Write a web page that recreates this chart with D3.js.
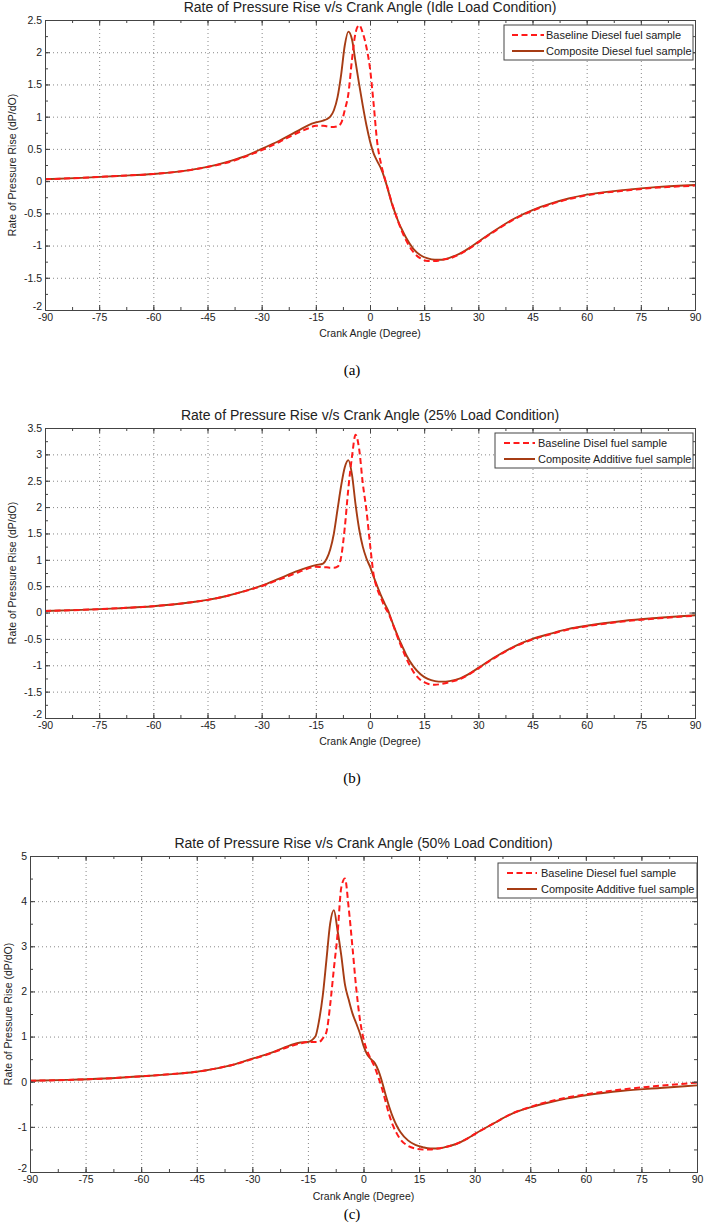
<!DOCTYPE html>
<html>
<head>
<meta charset="utf-8">
<script src="https://cdn.jsdelivr.net/npm/d3@7/dist/d3.min.js"></script>
<style>
  body { margin: 0; background: #fff; }
  svg { display: block; }
</style>
</head>
<body>
<svg width="704" height="1229"></svg>
<script>
// crank angle samples shared by all curves
var angles = [-90,-80,-70,-60,-50,-45,-40,-35,-30,-25,-20,-17,-15,-13,
  -12,-11,-10,-9,-8,-7,-6,-5,-4,-3,-2,-1,0,1,2,3,4,5,6,7,8,9,10,
  12,14,16,18,20,22,25,28,30,35,40,45,50,55,60,70,80,90];

// (a) idle load
var baseIdle = [0.03,0.05,0.08,0.11,0.17,0.22,0.28,0.37,0.48,0.61,0.75,0.82,0.86,0.86,
  0.85,0.84,0.84,0.85,0.9,1.1,1.35,1.88,2.3,2.42,2.3,2.08,1.75,1.2,0.6,0.28,0.06,-0.13,-0.33,-0.5,-0.66,-0.8,-0.92,
  -1.1,-1.2,-1.24,-1.24,-1.22,-1.2,-1.13,-1.03,-0.95,-0.76,-0.59,-0.46,-0.36,-0.28,-0.22,-0.15,-0.1,-0.07];
var compIdle = [0.03,0.05,0.08,0.11,0.17,0.22,0.29,0.38,0.5,0.63,0.78,0.87,0.91,0.94,
  0.96,1.0,1.1,1.3,1.65,2.1,2.32,2.2,1.85,1.5,1.17,0.87,0.62,0.43,0.31,0.2,0.05,-0.14,-0.34,-0.5,-0.65,-0.77,-0.88,
  -1.05,-1.15,-1.2,-1.22,-1.22,-1.19,-1.12,-1.02,-0.94,-0.75,-0.58,-0.45,-0.35,-0.27,-0.21,-0.14,-0.09,-0.06];

// (b) 25% load
var base25 = [0.03,0.05,0.08,0.12,0.19,0.24,0.31,0.4,0.5,0.63,0.76,0.84,0.87,0.86,
  0.86,0.85,0.85,0.87,1.05,1.6,2.35,2.95,3.37,3.1,2.45,1.95,1.3,0.72,0.45,0.28,0.12,0.0,-0.16,-0.35,-0.53,-0.7,-0.86,
  -1.12,-1.28,-1.35,-1.37,-1.35,-1.32,-1.26,-1.15,-1.06,-0.84,-0.65,-0.51,-0.41,-0.32,-0.26,-0.17,-0.11,-0.06];
var comp25 = [0.03,0.05,0.08,0.12,0.19,0.24,0.31,0.4,0.51,0.65,0.79,0.86,0.9,0.93,
  1.02,1.2,1.5,1.95,2.4,2.75,2.89,2.62,2.05,1.58,1.25,1.03,0.87,0.68,0.5,0.33,0.18,0.04,-0.15,-0.33,-0.5,-0.65,-0.8,
  -1.02,-1.17,-1.26,-1.3,-1.31,-1.3,-1.25,-1.14,-1.05,-0.83,-0.64,-0.5,-0.4,-0.31,-0.25,-0.16,-0.1,-0.05];

// (c) 50% load
var base50 = [0.02,0.04,0.07,0.12,0.18,0.22,0.29,0.38,0.5,0.63,0.78,0.85,0.88,0.88,
  0.88,0.96,1.1,1.7,2.5,3.27,4.3,4.5,3.85,3.0,2.1,1.4,0.95,0.68,0.5,0.33,0.1,-0.15,-0.45,-0.75,-0.98,-1.15,-1.28,
  -1.42,-1.48,-1.5,-1.5,-1.48,-1.45,-1.38,-1.26,-1.16,-0.93,-0.71,-0.56,-0.44,-0.35,-0.28,-0.17,-0.09,-0.02];
var comp50 = [0.02,0.04,0.07,0.12,0.18,0.22,0.29,0.38,0.51,0.64,0.8,0.87,0.88,1.0,
  1.35,1.9,2.7,3.5,3.8,3.35,2.8,2.15,1.82,1.52,1.3,1.08,0.8,0.6,0.5,0.42,0.25,0.0,-0.3,-0.57,-0.8,-0.98,-1.12,
  -1.3,-1.4,-1.45,-1.48,-1.48,-1.45,-1.38,-1.26,-1.16,-0.93,-0.71,-0.57,-0.46,-0.37,-0.3,-0.2,-0.14,-0.08];

var xTicks = [-90,-75,-60,-45,-30,-15,0,15,30,45,60,75,90];
var yTicksIdle = [-2,-1.5,-1,-0.5,0,0.5,1,1.5,2,2.5];
var yTicks25 = [-2,-1.5,-1,-0.5,0,0.5,1,1.5,2,2.5,3,3.5];
var yTicks50 = [-2,-1,0,1,2,3,4,5];

var titles = [
  "Rate of Pressure Rise v/s Crank Angle (Idle Load Condition)",
  "Rate of Pressure Rise v/s Crank Angle (25% Load Condition)",
  "Rate of Pressure Rise v/s Crank Angle (50% Load Condition)"
];
var legendIdle = ["Baseline Diesel fuel sample", "Composite Diesel fuel sample"];
var legend25 = ["Baseline Disel fuel sample", "Composite Additive fuel sample"];
var legend50 = ["Baseline Diesel fuel sample", "Composite Additive fuel sample"];
var captions = ["(a)", "(b)", "(c)"];

var svg = d3.select("svg");
var font = "'Liberation Sans', Arial, sans-serif";
var red = "#ff1a1a", brown = "#a63c14";

// layout of each sub-figure
var panels = [
  { left: 45, right: 695, top: 20, bottom: 310, yTicks: yTicksIdle, minorY: 0.25,
    base: baseIdle, comp: compIdle, legend: legendIdle, title: titles[0], caption: captions[0],
    titleY: 7, xlabY: 333, capY: 370, ylabX: 12,
    lg: { x: 504, y: 25, w: 189, h: 35, l1: 512, l2: 544, tx: 546 } },
  { left: 45, right: 695, top: 428, bottom: 718, yTicks: yTicks25, minorY: 0.25,
    base: base25, comp: comp25, legend: legend25, title: titles[1], caption: captions[1],
    titleY: 415, xlabY: 741, capY: 778, ylabX: 12,
    lg: { x: 495, y: 433, w: 198, h: 35, l1: 504, l2: 535, tx: 538 } },
  { left: 30, right: 697, top: 856, bottom: 1172, yTicks: yTicks50, minorY: 0.5,
    base: base50, comp: comp50, legend: legend50, title: titles[2], caption: captions[2],
    titleY: 843, xlabY: 1196, capY: 1214, ylabX: 8,
    lg: { x: 498, y: 863, w: 199, h: 35, l1: 507, l2: 537, tx: 541 } }
];

panels.forEach(function (p) {
  var x = d3.scaleLinear().domain([-90, 90]).range([p.left, p.right]);
  var yDom = d3.extent(p.yTicks);
  var y = d3.scaleLinear().domain(yDom).range([p.bottom, p.top]);
  var w = p.right - p.left, h = p.bottom - p.top;
  var g = svg.append("g");
  var fmt = function (d) { return String(d); };

  // dotted grid
  g.append("g")
    .attr("transform", "translate(0," + p.bottom + ")")
    .call(d3.axisBottom(x).tickValues(xTicks.slice(1, -1)).tickSize(-h).tickFormat(""))
    .call(function (s) { s.select(".domain").remove(); });
  g.append("g")
    .attr("transform", "translate(" + p.left + ",0)")
    .call(d3.axisLeft(y).tickValues(p.yTicks.slice(1, -1)).tickSize(-w).tickFormat(""))
    .call(function (s) { s.select(".domain").remove(); });
  g.selectAll(".tick line")
    .attr("stroke", "#6a6a6a").attr("stroke-width", 0.8).attr("stroke-dasharray", "1,3");

  // curves
  var pts = function (vals) { return angles.map(function (a, i) { return [a, vals[i]]; }); };
  var line = d3.line()
    .x(function (d) { return x(d[0]); })
    .y(function (d) { return y(d[1]); })
    .curve(d3.curveMonotoneX);
  g.append("path").datum(pts(p.comp))
    .attr("fill", "none").attr("stroke", brown).attr("stroke-width", 1.9)
    .attr("d", line);
  g.append("path").datum(pts(p.base))
    .attr("fill", "none").attr("stroke", red).attr("stroke-width", 2)
    .attr("stroke-dasharray", "6,3.5")
    .attr("d", line);

  // axes: inward ticks on all four sides
  var minorX = d3.range(-90, 90.1, 7.5);
  var minorYs = d3.range(yDom[0], yDom[1] + 0.001, p.minorY);
  var ax = g.append("g").attr("class", "axes");
  ax.append("g").attr("transform", "translate(0," + p.bottom + ")")
    .call(d3.axisBottom(x).tickValues(minorX).tickSize(-3).tickFormat(""));
  ax.append("g").attr("transform", "translate(0," + p.top + ")")
    .call(d3.axisTop(x).tickValues(minorX).tickSize(-3).tickFormat(""));
  ax.append("g").attr("transform", "translate(" + p.left + ",0)")
    .call(d3.axisLeft(y).tickValues(minorYs).tickSize(-3).tickFormat(""));
  ax.append("g").attr("transform", "translate(" + p.right + ",0)")
    .call(d3.axisRight(y).tickValues(minorYs).tickSize(-3).tickFormat(""));
  ax.append("g").attr("transform", "translate(0," + p.bottom + ")")
    .call(d3.axisBottom(x).tickValues(xTicks).tickSize(-5).tickPadding(4).tickFormat(fmt));
  ax.append("g").attr("transform", "translate(0," + p.top + ")")
    .call(d3.axisTop(x).tickValues(xTicks).tickSize(-5).tickFormat(""));
  var yl = ax.append("g").attr("transform", "translate(" + p.left + ",0)")
    .call(d3.axisLeft(y).tickValues(p.yTicks).tickSize(-5).tickPadding(3).tickFormat(fmt));
  // lowest y label sits a little above the corner, clear of "-90"
  yl.selectAll(".tick text").filter(function (d) { return d === yDom[0]; }).attr("dy", "-0.05em");
  ax.append("g").attr("transform", "translate(" + p.right + ",0)")
    .call(d3.axisRight(y).tickValues(p.yTicks).tickSize(-5).tickFormat(""));
  ax.selectAll(".domain").attr("stroke", "#444").attr("stroke-width", 1);
  ax.selectAll(".tick line").attr("stroke", "#444").attr("stroke-width", 1);
  ax.selectAll("text").attr("font-family", font).attr("font-size", 10.5).attr("fill", "#222");

  // titles and labels
  g.append("text").attr("x", x(0)).attr("y", p.titleY).attr("dy", "0.35em")
    .attr("text-anchor", "middle").attr("font-family", font).attr("font-size", 14)
    .attr("fill", "#222").text(p.title);
  g.append("text").attr("x", x(0)).attr("y", p.xlabY).attr("dy", "0.35em")
    .attr("text-anchor", "middle").attr("font-family", font).attr("font-size", 10.5)
    .attr("fill", "#222").text("Crank Angle (Degree)");
  g.append("text")
    .attr("transform", "translate(" + p.ylabX + "," + (p.top + h / 2) + ") rotate(-90)")
    .attr("dy", "0.35em").attr("text-anchor", "middle").attr("font-family", font)
    .attr("font-size", 10.5).attr("fill", "#222").text("Rate of Pressure Rise (dP/dO)");
  g.append("text").attr("x", 352).attr("y", p.capY).attr("dy", "0.35em")
    .attr("text-anchor", "middle").attr("font-family", "'Liberation Serif', 'Times New Roman', serif")
    .attr("font-size", 15).attr("fill", "#000").text(p.caption);

  // legend
  var lg = g.append("g");
  lg.append("rect").attr("x", p.lg.x).attr("y", p.lg.y).attr("width", p.lg.w).attr("height", p.lg.h)
    .attr("fill", "#fff").attr("stroke", "#444").attr("stroke-width", 1);
  [0, 1].forEach(function (i) {
    var ry = p.lg.y + 10 + i * 16;
    lg.append("line").attr("x1", p.lg.l1).attr("x2", p.lg.l2).attr("y1", ry).attr("y2", ry)
      .attr("stroke", i === 0 ? red : brown).attr("stroke-width", 2)
      .attr("stroke-dasharray", i === 0 ? "6,3.5" : null);
    lg.append("text").attr("x", p.lg.tx).attr("y", ry).attr("dy", "0.35em")
      .attr("font-family", font).attr("font-size", 11).attr("fill", "#222")
      .text(p.legend[i]);
  });
});
</script>
</body>
</html>
